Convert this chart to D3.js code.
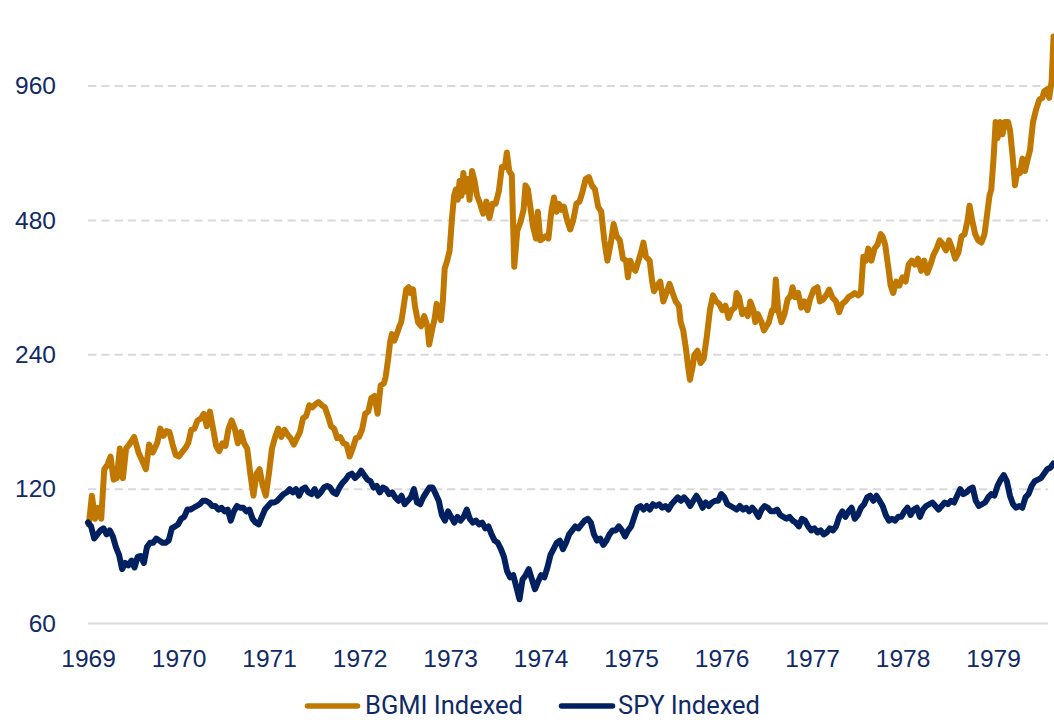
<!DOCTYPE html>
<html>
<head>
<meta charset="utf-8">
<script src="https://cdn.jsdelivr.net/npm/d3@7"></script>
<style>
  body { margin: 0; background: #fff; }
  svg { display: block; }
</style>
</head>
<body>
<svg id="chart" width="1054" height="720"></svg>
<script>
// years since Jan 1969
const bgmiT = [0.009,0.043,0.078,0.112,0.146,0.180,0.215,0.249,0.283,0.318,0.352,0.386,0.421,0.455,0.510,0.558,0.592,0.640,0.675,0.716,0.764,0.798,0.833,0.867,0.901,0.935,0.970,1.004,1.038,1.073,1.107,1.141,1.176,1.210,1.251,1.279,1.313,1.347,1.382,1.416,1.450,1.485,1.519,1.553,1.588,1.622,1.656,1.690,1.725,1.759,1.793,1.828,1.862,1.896,1.931,1.965,1.999,2.033,2.068,2.102,2.136,2.171,2.205,2.239,2.274,2.308,2.342,2.376,2.411,2.445,2.479,2.514,2.548,2.582,2.617,2.651,2.685,2.720,2.754,2.788,2.823,2.857,2.891,2.925,2.960,2.994,3.028,3.063,3.097,3.131,3.166,3.200,3.234,3.269,3.289,3.317,3.338,3.358,3.385,3.420,3.441,3.461,3.475,3.496,3.516,3.544,3.564,3.592,3.612,3.647,3.681,3.715,3.750,3.770,3.805,3.832,3.852,3.873,3.900,3.921,3.941,3.969,3.996,4.024,4.045,4.065,4.086,4.106,4.127,4.148,4.168,4.196,4.216,4.244,4.271,4.299,4.333,4.367,4.402,4.436,4.470,4.504,4.539,4.573,4.607,4.628,4.655,4.683,4.710,4.744,4.779,4.813,4.834,4.861,4.895,4.916,4.950,4.971,4.998,5.026,5.053,5.087,5.122,5.149,5.177,5.204,5.232,5.259,5.293,5.328,5.362,5.397,5.431,5.465,5.499,5.534,5.568,5.602,5.637,5.671,5.705,5.739,5.774,5.808,5.842,5.877,5.911,5.945,5.966,5.993,6.014,6.048,6.083,6.117,6.137,6.165,6.206,6.234,6.254,6.289,6.323,6.357,6.391,6.426,6.460,6.494,6.529,6.549,6.577,6.604,6.632,6.652,6.680,6.700,6.735,6.769,6.803,6.838,6.872,6.906,6.941,6.975,7.009,7.044,7.078,7.112,7.147,7.167,7.195,7.229,7.263,7.291,7.318,7.353,7.373,7.401,7.442,7.469,7.497,7.524,7.558,7.579,7.600,7.627,7.662,7.696,7.730,7.765,7.785,7.813,7.847,7.881,7.916,7.950,7.977,8.019,8.060,8.087,8.121,8.156,8.190,8.224,8.265,8.300,8.334,8.368,8.403,8.437,8.471,8.512,8.540,8.567,8.595,8.622,8.657,8.691,8.725,8.760,8.780,8.808,8.842,8.869,8.897,8.931,8.965,9.000,9.034,9.068,9.103,9.137,9.171,9.206,9.240,9.274,9.309,9.343,9.377,9.411,9.446,9.480,9.515,9.549,9.583,9.617,9.652,9.686,9.720,9.741,9.769,9.803,9.837,9.872,9.906,9.927,9.961,9.981,10.009,10.029,10.050,10.077,10.105,10.132,10.167,10.188,10.215,10.243,10.270,10.298,10.325,10.353,10.380,10.408,10.442,10.476,10.511,10.545,10.566,10.600,10.621,10.648,10.669];
const bgmiValues = [100,116,103,109,103,133,136,142,126,127,148,127,148,151,157,145,140,133,151,145,152,164,158,162,161,151,143,142,145,148,152,163,164,171,173,177,166,179,164,150,146,152,150,164,171,164,152,161,152,148,130,116,130,133,122,116,130,148,157,164,157,163,159,156,151,156,161,173,175,185,183,186,188,185,183,175,166,164,156,157,152,151,142,148,156,157,163,177,179,192,194,177,205,207,214,235,256,267,258,270,278,284,296,316,336,340,330,336,309,284,278,293,278,253,275,290,312,302,287,316,374,390,411,491,545,563,534,588,545,613,557,594,534,619,588,545,523,497,529,486,523,523,557,632,632,681,619,606,378,456,476,507,575,563,502,466,437,502,433,437,442,437,507,540,502,523,507,515,481,458,481,523,529,557,594,600,575,563,515,502,433,390,424,471,442,433,394,390,358,390,378,370,390,411,428,398,390,350,333,343,350,316,330,346,330,316,309,284,272,250,225,211,225,240,245,230,235,264,302,326,316,312,302,309,290,302,306,330,323,296,302,293,316,302,284,296,284,272,278,284,302,302,354,302,284,296,319,326,340,323,330,306,316,302,319,336,340,316,319,326,336,323,316,299,312,316,323,326,330,326,330,398,390,415,390,415,424,447,442,424,378,343,330,350,343,358,350,382,390,382,394,370,390,366,382,402,415,433,424,411,433,415,394,406,442,447,481,518,481,447,433,428,447,481,545,563,674,797,733,797,748,797,797,765,674,575,619,613,660,619,654,688,797,850,894,903,934,944,903,984,1240];

// SPY every ~12.5 days from Jan 1969
const spyStep = 0.0343;
const spyValues = [101,99,93,95,97,98,95,97,94,89,85.5,79.4,82,81,83,80.1,84.6,85,82,89,91,91,93,92,91,91,92,98,99,100,103,104,108,108,109,110,111,113,113,112,110,110,108,109,107,108,102,107,110,109,109,107,108,103,101,100,104,108,110,112,112,113,115,117,118,120,118,120,116,120,121,118,117,120,116,118,121,122,121,118,117,121,124,126,129,130,127,129,132,129,126,125,121,122,118,121,120,117,118,115,113,116,111,113,115,120,112,111,115,118,121,121,117,113,105,102,107,104,101,104,102,104,108,103,101,102,100,101,98,99,95,92,91,88.2,84.6,78.6,76.1,77,72.4,68,75.3,77,79.4,75.3,71.6,74.5,77,76.1,80.1,85.5,88.2,91,92,88,91,95,97,99,98,100,102,103,101,95,92,93,90,92,95,97,97,99,97,94,97,99,104,109,110,108,110,108,111,110,111,109,110,108,111,113,115,113,115,113,110,113,116,113,109,112,110,112,113,113,117,115,111,110,109,108,110,108,109,107,109,107,104,108,110,109,107,107,108,105,104,103,104,102,101,99,103,102,99,97,98,96,97,95,96,98,97,99,104,107,104,107,109,103,105,109,111,115,116,113,116,113,110,105,102,103,102,104,104,107,109,105,108,109,104,108,110,111,112,110,108,110,112,111,113,112,116,120,117,118,120,121,113,110,111,112,115,117,116,122,126,129,125,116,111,109,110,109,115,117,122,125,126,127,130,133,134,137];

const yTicks = [60, 120, 240, 480, 960];
const xLabels = ["1969","1970","1971","1972","1973","1974","1975","1976","1977","1978","1979"];
const seriesNames = ["BGMI Indexed", "SPY Indexed"];
const colors = ["#C07800", "#002060"];
const textColor = "#0f2a66";

const svg = d3.select("#chart");

const x = d3.scaleLinear()
    .domain([0, 10.674])
    .range([88, 1054]);

const y = d3.scaleLog()
    .domain([60, 960])
    .range([623.5, 86]);

// gridlines
svg.append("g")
    .attr("class", "grid")
  .selectAll("line")
  .data(yTicks)
  .enter().append("line")
    .attr("x1", 88)
    .attr("x2", 1048)
    .attr("y1", (d) => y(d))
    .attr("y2", (d) => y(d))
    .attr("stroke", "#d9d9d9")
    .attr("stroke-width", 2)
    .attr("stroke-dasharray", (d) => d === 60 ? null : "8.3,5");

const yAxis = d3.axisLeft(y)
    .tickValues(yTicks)
    .tickFormat(d3.format("d"))
    .tickSize(0)
    .tickPadding(32);

const xAxis = d3.axisBottom(x)
    .tickValues(d3.range(xLabels.length))
    .tickFormat((i) => xLabels[i])
    .tickSize(0)
    .tickPadding(26.5);

svg.append("g")
    .attr("transform", "translate(88,0)")
    .call(yAxis)
    .call((g) => g.select(".domain").remove());

svg.append("g")
    .attr("transform", `translate(0,${ y(60) })`)
    .call(xAxis)
    .call((g) => g.select(".domain").remove());

svg.selectAll(".tick text")
    .attr("fill", textColor)
    .attr("font-family", "'Liberation Sans', Arial, sans-serif")
    .attr("font-size", "24.5px");

svg.append("clipPath")
    .attr("id", "plot")
  .append("rect")
    .attr("x", 80)
    .attr("y", 0)
    .attr("width", 974)
    .attr("height", 640);

const bgmi = bgmiT.map((t, i) => [t, bgmiValues[i]]).filter((d) => d[1] != null);
const spy = spyValues.map((v, i) => [i * spyStep, v]);

const line = d3.line()
    .x((d) => x(d[0]))
    .y((d) => y(d[1]));

svg.append("g")
    .attr("clip-path", "url(#plot)")
  .selectAll("path")
  .data([bgmi, spy])
  .enter().append("path")
    .attr("d", line)
    .attr("fill", "none")
    .attr("stroke", (d, i) => colors[i])
    .attr("stroke-width", 6)
    .attr("stroke-linejoin", "round")
    .attr("stroke-linecap", "round");

// legend
const legendPos = [
  {x1: 307.5, x2: 357.5, tx: 365, w: 158},
  {x1: 561.5, x2: 612.5, tx: 618, w: 142}
];

const legend = svg.append("g")
  .selectAll("g")
  .data(seriesNames)
  .enter().append("g");

legend.append("line")
    .attr("x1", (d, i) => legendPos[i].x1)
    .attr("x2", (d, i) => legendPos[i].x2)
    .attr("y1", 706)
    .attr("y2", 706)
    .attr("stroke", (d, i) => colors[i])
    .attr("stroke-width", 5.5)
    .attr("stroke-linecap", "round");

legend.append("text")
    .attr("x", (d, i) => legendPos[i].tx)
    .attr("y", 714)
    .attr("textLength", (d, i) => legendPos[i].w)
    .attr("lengthAdjust", "spacingAndGlyphs")
    .attr("fill", textColor)
    .attr("font-family", "Roboto, sans-serif")
    .attr("font-size", "26px")
    .text((d) => d);
</script>
</body>
</html>
